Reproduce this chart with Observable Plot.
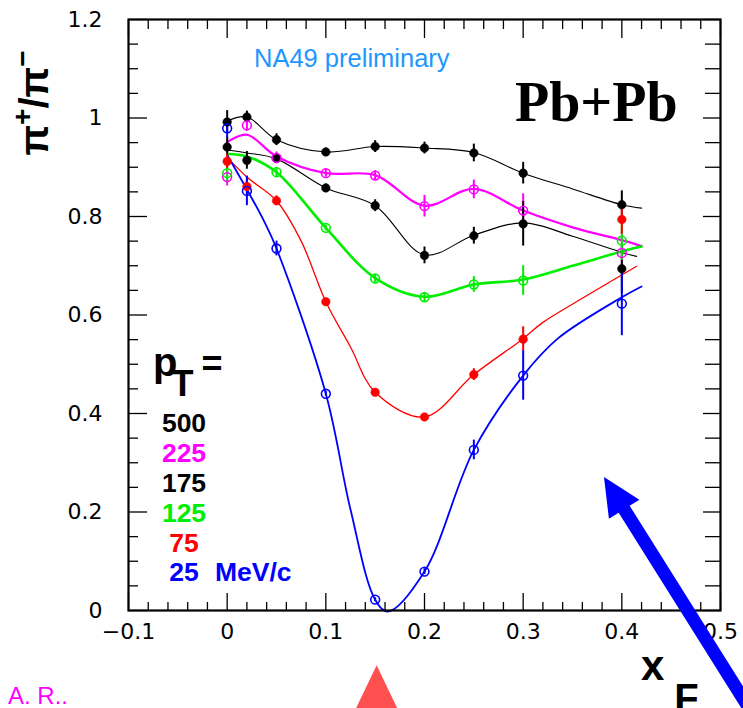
<!DOCTYPE html>
<html><head><meta charset="utf-8">
<script src="https://cdn.jsdelivr.net/npm/d3@7"></script>
<script src="https://cdn.jsdelivr.net/npm/@observablehq/plot@0.6"></script>
<style>body{margin:0;background:#fff}svg{display:block}</style>
</head><body><div id="chart"></div>
<script>
// ---- data ----
const xF = [0, 0.02, 0.05, 0.1, 0.15, 0.2, 0.25, 0.3, 0.4];

const pT500 = [0.992, 1.002, 0.956, 0.931, 0.942, 0.939, 0.929, 0.888, 0.824];
const err500 = [0.023, 0.012, 0.012, 0.008, 0.012, 0.012, 0.018, 0.022, 0.028];
const pT225 = [0.880, 0.985, 0.919, 0.888, 0.883, 0.821, 0.855, 0.812, 0.726];
const err225 = [0.018, 0.012, 0.012, 0.008, 0.010, 0.022, 0.019, 0.034, 0.045];
const pT175 = [0.941, 0.914, 0.918, 0.858, 0.822, 0.721, 0.761, 0.785, 0.694];
const err175 = [0.020, 0.018, 0.010, 0.008, 0.012, 0.017, 0.017, 0.045, 0.050];
const pT125 = [0.888, null, 0.890, 0.777, 0.674, 0.636, 0.662, 0.670, 0.751];
const err125 = [0.020, null, 0.010, 0.006, 0.008, 0.010, 0.016, 0.030, 0.040];
const pT75 = [0.912, 0.861, 0.832, 0.627, 0.443, 0.393, 0.479, 0.551, 0.794];
const err75 = [0.015, 0.020, 0.010, 0.005, 0.005, 0.005, 0.012, 0.025, 0.030];
const pT25 = [0.979, 0.852, 0.735, 0.440, 0.022, 0.079, 0.326, 0.477, 0.623];
const err25 = [0.020, 0.030, 0.015, 0.005, 0.004, 0.006, 0.020, 0.050, 0.065];

// smooth fit curves (knots)
const fitX500 = [0, 0.02, 0.05, 0.1, 0.15, 0.2, 0.25, 0.3, 0.35, 0.4, 0.42];
const fitY500 = [0.994, 1.002, 0.956, 0.931, 0.942, 0.939, 0.930, 0.888, 0.856, 0.824, 0.817];
const fitX225 = [0, 0.02, 0.05, 0.1, 0.15, 0.2, 0.25, 0.3, 0.35, 0.4, 0.42];
const fitY225 = [0.951, 0.966, 0.922, 0.888, 0.884, 0.822, 0.856, 0.812, 0.778, 0.752, 0.740];
const fitX175 = [0, 0.02, 0.05, 0.1, 0.15, 0.2, 0.25, 0.3, 0.35, 0.4, 0.415];
const fitY175 = [0.935, 0.929, 0.917, 0.858, 0.822, 0.722, 0.762, 0.787, 0.760, 0.727, 0.719];
const fitX125 = [0, 0.02, 0.05, 0.1, 0.15, 0.2, 0.25, 0.3, 0.35, 0.4, 0.42];
const fitY125 = [0.927, 0.922, 0.890, 0.777, 0.675, 0.637, 0.662, 0.672, 0.700, 0.729, 0.739];
const fitX75 = [0, 0.02, 0.05, 0.075, 0.1, 0.125, 0.15, 0.2, 0.25, 0.3, 0.32, 0.36, 0.415];
const fitY75 = [0.920, 0.880, 0.832, 0.750, 0.627, 0.535, 0.443, 0.393, 0.479, 0.552, 0.585, 0.634, 0.699];
const fitX25 = [0, 0.02, 0.037, 0.05, 0.1, 0.125, 0.15, 0.163, 0.2, 0.25, 0.3, 0.335, 0.4, 0.42];
const fitY25 = [0.925, 0.855, 0.792, 0.735, 0.440, 0.205, 0.022, -0.002, 0.079, 0.326, 0.477, 0.552, 0.636, 0.658];

const legendLabels = ["500", "225", "175", "125", "75", "25"];
const seriesColors = ["#000000", "#ff00ff", "#000000", "#00ee00", "#ff0000", "#0000ff"];

const xTicks = [-0.1, 0, 0.1, 0.2, 0.3, 0.4, 0.5];
const xTickLabels = ["\u22120.1", "0", "0.1", "0.2", "0.3", "0.4", "0.5"];
const xMinor = [-0.08, -0.06, -0.04, -0.02, 0.02, 0.04, 0.06, 0.08, 0.12, 0.14, 0.16, 0.18,
  0.22, 0.24, 0.26, 0.28, 0.32, 0.34, 0.36, 0.38, 0.42, 0.44, 0.46, 0.48];
const yTicks = [0, 0.2, 0.4, 0.6, 0.8, 1, 1.2];
const yTickLabels = ["0", "0.2", "0.4", "0.6", "0.8", "1", "1.2"];
const yMinor = [0.05, 0.1, 0.15, 0.25, 0.3, 0.35, 0.45, 0.5, 0.55, 0.65, 0.7, 0.75,
  0.85, 0.9, 0.95, 1.05, 1.1, 1.15];

// ---- assemble ----
const series = [
  {label: "500", y: pT500, e: err500, fx: fitX500, fy: fitY500, filled: true, lw: 1.1},
  {label: "225", y: pT225, e: err225, fx: fitX225, fy: fitY225, filled: false, lw: 2.2},
  {label: "175", y: pT175, e: err175, fx: fitX175, fy: fitY175, filled: true, lw: 1.1},
  {label: "125", y: pT125, e: err125, fx: fitX125, fy: fitY125, filled: false, lw: 2.6},
  {label: "75", y: pT75, e: err75, fx: fitX75, fy: fitY75, filled: true, lw: 1.3},
  {label: "25", y: pT25, e: err25, fx: fitX25, fy: fitY25, filled: false, lw: 1.8}
].map((s, k) => ({...s, color: seriesColors[k]}));

const pts = [];
series.forEach(s => s.y.forEach((v, i) => {
  if (v != null) pts.push({x: xF[i], y: v, e: s.e[i], color: s.color, filled: s.filled, s: s.label});
}));

const lineMarks = series.map(s => Plot.line(s.fx.map((x, i) => ({x, y: s.fy[i]})),
  {x: "x", y: "y", stroke: s.color, strokeWidth: s.lw, curve: "catmull-rom"}));

const font = "DejaVu Sans";
const plot = Plot.plot({
  width: 743, height: 708,
  marginLeft: 128, marginRight: 23, marginTop: 19, marginBottom: 98,
  x: {domain: [-0.1, 0.5]},
  y: {domain: [0, 1.2]},
  color: {type: "identity"},
  style: {background: "white", overflow: "visible"},
  marks: [
    ...lineMarks,
    Plot.ruleX(pts, {x: "x", y1: d => d.y - d.e, y2: d => d.y + d.e, stroke: "color", strokeWidth: 2}),
    Plot.dot(pts.filter(d => d.filled), {x: "x", y: "y", r: 4.3, fill: "color", stroke: "color", strokeWidth: 0.5}),
    Plot.dot(pts.filter(d => !d.filled), {x: "x", y: "y", r: 4.4, fill: "none", stroke: "color", strokeWidth: 1.6}),
    // ticks (inward)
    Plot.axisX(xTicks, {anchor: "bottom", tickSize: -17, text: null, label: null, strokeWidth: 1.3}),
    Plot.axisX(xMinor, {anchor: "bottom", tickSize: -8, text: null, label: null, strokeWidth: 1.3}),
    Plot.axisX(xTicks, {anchor: "top", tickSize: -18, text: null, label: null, strokeWidth: 1.3}),
    Plot.axisX(xMinor, {anchor: "top", tickSize: -9, text: null, label: null, strokeWidth: 1.3}),
    Plot.axisY(yTicks, {anchor: "left", tickSize: -19, text: null, label: null, strokeWidth: 1.3}),
    Plot.axisY(yMinor, {anchor: "left", tickSize: -10, text: null, label: null, strokeWidth: 1.3}),
    Plot.axisY(yTicks, {anchor: "right", tickSize: -18, text: null, label: null, strokeWidth: 1.3}),
    Plot.axisY(yMinor, {anchor: "right", tickSize: -16, text: null, label: null, strokeWidth: 1.3}),
    // labels
    Plot.axisX(xTicks, {anchor: "bottom", tickSize: 0, tickPadding: 13, label: null,
      tickFormat: d => xTickLabels[xTicks.indexOf(d)], fontSize: 22, fontFamily: font, fill: "black"}),
    Plot.axisY(yTicks, {anchor: "left", tickSize: 0, tickPadding: 26, label: null,
      tickFormat: d => yTickLabels[yTicks.indexOf(d)], fontSize: 22, fontFamily: font, fill: "black"}),
    Plot.frame({stroke: "black", strokeWidth: 2.2})
  ]
});
document.getElementById("chart").appendChild(plot);

// ---- annotations ----
const svg = d3.select(plot);
const sx = plot.scale("x"), sy = plot.scale("y");
const X = v => sx.apply(v), Y = v => sy.apply(v);
const addText = (x, y, txt, o = {}) => svg.append("text").attr("x", x).attr("y", y)
  .attr("text-anchor", o.anchor || "start")
  .attr("font-family", o.family || "Liberation Sans")
  .attr("font-weight", o.weight || "normal")
  .attr("font-size", o.size || 20)
  .attr("fill", o.fill || "black").text(txt);

// y title pi+/pi-
const yt = svg.append("text")
  .attr("transform", "translate(48,103) rotate(-90)")
  .attr("text-anchor", "middle")
  .attr("font-family", "Liberation Sans").attr("font-weight", "bold").attr("font-size", 40).attr("fill", "black");
yt.append("tspan").text("\u03c0");
yt.append("tspan").attr("dy", -16).attr("font-size", 28).text("+");
yt.append("tspan").attr("dy", 16).text("/\u03c0");
yt.append("tspan").attr("dy", -16).attr("font-size", 28).text("\u2212");

// x title x_F
const xt = svg.append("text").attr("x", 641).attr("y", 680).attr("text-anchor", "start")
  .attr("font-family", "Liberation Sans").attr("font-weight", "bold").attr("font-size", 42).attr("fill", "black");
xt.append("tspan").text("x");
xt.append("tspan").attr("dx", 10).attr("dy", 32).attr("font-size", 40).text("F");

addText(254, 67, "NA49 preliminary", {size: 25.5, fill: "#1e96ff"});
addText(515, 121, "Pb+Pb", {family: "Liberation Serif", weight: "bold", size: 56});

// pT legend
const pt = svg.append("text").attr("x", 153).attr("y", 376).attr("text-anchor", "start")
  .attr("font-family", "Liberation Sans").attr("font-weight", "bold").attr("font-size", 40).attr("fill", "black");
pt.append("tspan").text("p");
pt.append("tspan").attr("dx", -6).attr("dy", 20).attr("font-size", 36).text("T");
pt.append("tspan").attr("dx", 8).attr("dy", -20).attr("font-size", 36).text("=");

const legBase = [432, 462, 492, 522, 552, 581];
legendLabels.forEach((l, i) => {
  addText(184, legBase[i], l, {anchor: "middle", weight: "bold", size: 26.5, fill: seriesColors[i]});
});
addText(215, 581, "MeV/c", {weight: "bold", size: 26.5, fill: seriesColors[5]});

addText(8, 704, "A. R..", {size: 24, fill: "#ff00ff"});

// red triangle marker pointing at xF ~ 0.15
const triX = 0.152, triY = -0.112;
const tx = X(triX), ty = Y(triY);
svg.append("path").attr("d", `M${tx},${ty}L${tx + 22},${ty + 46}L${tx - 22},${ty + 46}Z`).attr("fill", "#ff5050");

// blue arrow
const tip = [X(0.3824), Y(0.27)], tail = [X(0.54), Y(-0.233)];
const dx = tail[0] - tip[0], dy = tail[1] - tip[1], L = Math.hypot(dx, dy);
const ux = dx / L, uy = dy / L, nx = -uy, ny = ux;
const hl = 38, hw = 18, sw = 6.5;
const b = [tip[0] + ux * hl, tip[1] + uy * hl];
const pth = [
  tip,
  [b[0] + nx * hw, b[1] + ny * hw],
  [b[0] + nx * sw, b[1] + ny * sw],
  [tail[0] + nx * sw, tail[1] + ny * sw],
  [tail[0] - nx * sw, tail[1] - ny * sw],
  [b[0] - nx * sw, b[1] - ny * sw],
  [b[0] - nx * hw, b[1] - ny * hw]
];
svg.append("path").attr("d", "M" + pth.map(p => p.join(",")).join("L") + "Z").attr("fill", "#0000ff");
</script>
</body></html>
